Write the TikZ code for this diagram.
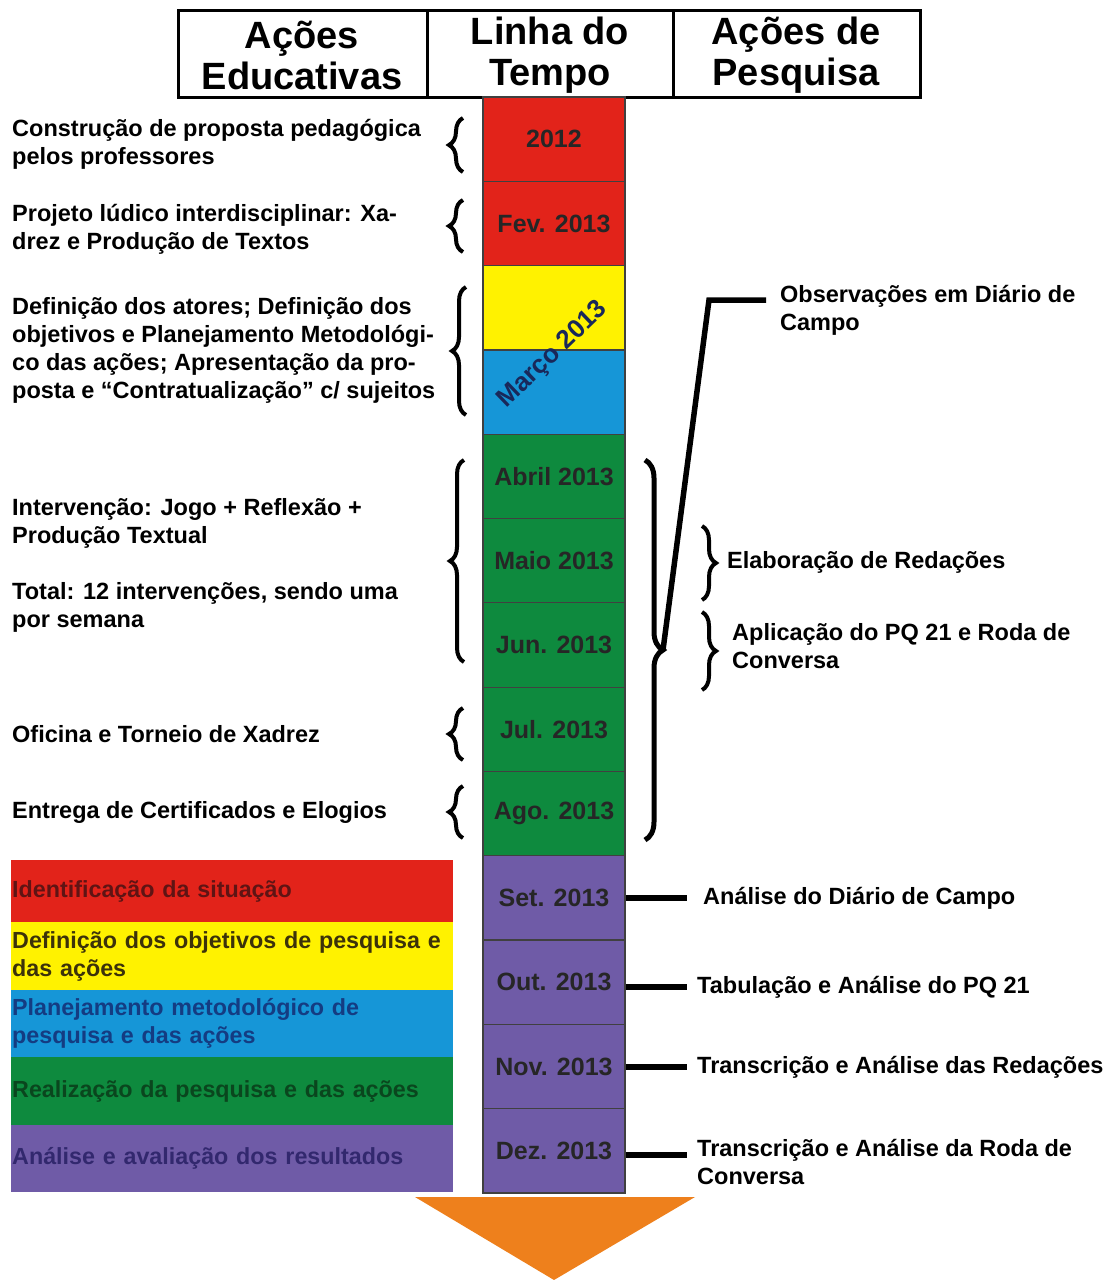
\documentclass[tikz,border=0pt]{standalone}
\usepackage{fontspec}
\setmainfont{Liberation Sans}
\usetikzlibrary{decorations.pathreplacing}
\definecolor{cred}{RGB}{226,35,26}
\definecolor{cyel}{RGB}{255,242,0}
\definecolor{cblu}{RGB}{22,150,215}
\definecolor{cgrn}{RGB}{14,138,62}
\definecolor{cpur}{RGB}{111,91,167}
\definecolor{corg}{RGB}{238,128,28}
\definecolor{tred}{RGB}{95,20,20}
\definecolor{tyel}{RGB}{60,50,10}
\definecolor{tblu}{RGB}{20,60,130}
\definecolor{tgrn}{RGB}{10,70,30}
\definecolor{tpur}{RGB}{50,40,110}
\definecolor{tnav}{RGB}{25,40,90}
\begin{document}
\begin{tikzpicture}[x=1pt,y=-1pt,
  seg/.style={draw=black!75,line width=1.2pt,minimum width=142pt,minimum height=84.3pt,
    inner sep=0pt,font=\bfseries\fontsize{25}{28}\selectfont,text=black!85},
  head/.style={font=\bfseries\fontsize{38}{41}\selectfont,align=center,inner sep=0pt},
  ltext/.style={font=\bfseries\fontsize{23.5}{28}\selectfont,align=left,anchor=west,inner sep=0pt},
  legbox/.style={minimum width=442pt,text width=440pt,inner xsep=1pt,inner ysep=0pt,
    font=\bfseries\fontsize{23.3}{28}\selectfont,align=left,anchor=north west},
  lbrace/.style={decorate,decoration={brace,amplitude=14pt},line width=4pt},
  conn/.style={line width=5.5pt,line join=miter},
]
\useasboundingbox (0,0) rectangle (1114,1280);
% header
\draw[line width=3pt] (178,10) rectangle (920,97);
\draw[line width=3pt] (427,10) -- (427,97) (673,10) -- (673,97);
\node[head] (h1) at (302,55) {Ações\\Educativas};
\node[head] (h2) at (550,55) {Linha do\\Tempo};
\node[head] (h3) at (796,55) {Ações de\\Pesquisa};
% timeline
\node[seg,fill=cred] (s0) at (554,139.15) {2012};
\node[seg,fill=cred] (s1) at (554,223.45) {Fev. 2013};
\node[seg,fill=cyel] (s2) at (554,307.75) {};
\node[seg,fill=cblu] (s3) at (554,392.05) {};
\node[seg,fill=cgrn] (s4) at (554,476.35) {Abril 2013};
\node[seg,fill=cgrn] (s5) at (554,560.65) {Maio 2013};
\node[seg,fill=cgrn] (s6) at (554,644.95) {Jun. 2013};
\node[seg,fill=cgrn] (s7) at (554,729.25) {Jul. 2013};
\node[seg,fill=cgrn] (s8) at (554,813.55) {Ago. 2013};
\node[seg,fill=cpur] (s9) at (554,897.85) {Set. 2013};
\node[seg,fill=cpur] (s10) at (554,982.15) {Out. 2013};
\node[seg,fill=cpur] (s11) at (554,1066.45) {Nov. 2013};
\node[seg,fill=cpur] (s12) at (554,1150.75) {Dez. 2013};
\node[font=\bfseries\fontsize{26}{28}\selectfont,text=tnav,rotate=44,inner sep=0pt] (marco) at (553,355) {Março 2013};
% arrow
\fill[corg] (415,1197) -- (695,1197) -- (554,1280) -- cycle;
% left texts
\node[ltext] (e1) at (12,144) {Construção de proposta pedagógica\\pelos professores};
\node[ltext] (e2) at (12,229.5) {Projeto lúdico interdisciplinar: Xa-\\drez e Produção de Textos};
\node[ltext] (e3) at (12,350) {Definição dos atores; Definição dos\\objetivos e Planejamento Metodológi-\\co das ações; Apresentação da pro-\\posta e “Contratualização” c/ sujeitos};
\node[ltext] (e4) at (12,565) {Intervenção: Jogo + Reflexão +\\Produção Textual\\[28pt]Total: 12 intervenções, sendo uma\\por semana};
\node[ltext] (e5) at (12,734) {Oficina e Torneio de Xadrez};
\node[ltext] (e6) at (12,812) {Entrega de Certificados e Elogios};
% left braces
\draw[lbrace] (463,172) -- (463,118);
\draw[lbrace] (463,252) -- (463,200);
\draw[lbrace] (466,415) -- (466,287);
\draw[lbrace] (464,662) -- (464,460);
\draw[lbrace] (463,760) -- (463,708);
\draw[lbrace] (463,838) -- (463,786);
% right braces
\draw[lbrace,line width=5pt,decoration={amplitude=18pt}] (645,460) -- (645,840);
\draw[lbrace] (702,526) -- (702,600);
\draw[lbrace] (702,612) -- (702,690);
% right texts
\node[ltext] (obs) at (780,310) {Observações em Diário de\\Campo};
\node[ltext] (elab) at (727,562) {Elaboração de Redações};
\node[ltext] (apl) at (732,646) {Aplicação do PQ 21 e Roda de\\Conversa};
\coordinate (btip) at (663,650);
\coordinate (bcorner) at (709,300);
\coordinate (obsend) at (766,300);
\draw[conn] (btip) -- (bcorner) -- (obsend);
\node[ltext] (a9) at (703,898) {Análise do Diário de Campo};
\node[ltext] (a10) at (697,987) {Tabulação e Análise do PQ 21};
\node[ltext] (a11) at (697,1067) {Transcrição e Análise das Redações};
\node[ltext] (a12) at (697,1162) {Transcrição e Análise da Roda de\\Conversa};
\draw[conn] (s9.east |- a9) -- ++(61,0);
\draw[conn] (s10.east |- a10) -- ++(61,0);
\draw[conn] (s11.east |- a11) -- ++(61,0);
\draw[conn] (s12.east) ++(0,4) -- ++(61,0);
% legend
\node[legbox,fill=cred,minimum height=62pt,text=tred] (l1) at (11,860) {Identificação da situação};
\node[legbox,fill=cyel,minimum height=68pt,text=tyel] (l2) at (11,922) {Definição dos objetivos de pesquisa e\\das ações};
\node[legbox,fill=cblu,minimum height=67pt,text=tblu] (l3) at (11,990) {Planejamento metodológico de\\pesquisa e das ações};
\node[legbox,fill=cgrn,minimum height=68pt,text=tgrn] (l4) at (11,1057) {Realização da pesquisa e das ações};
\node[legbox,fill=cpur,minimum height=67pt,text=tpur] (l5) at (11,1125) {Análise e avaliação dos resultados};
\end{tikzpicture}
\end{document}
